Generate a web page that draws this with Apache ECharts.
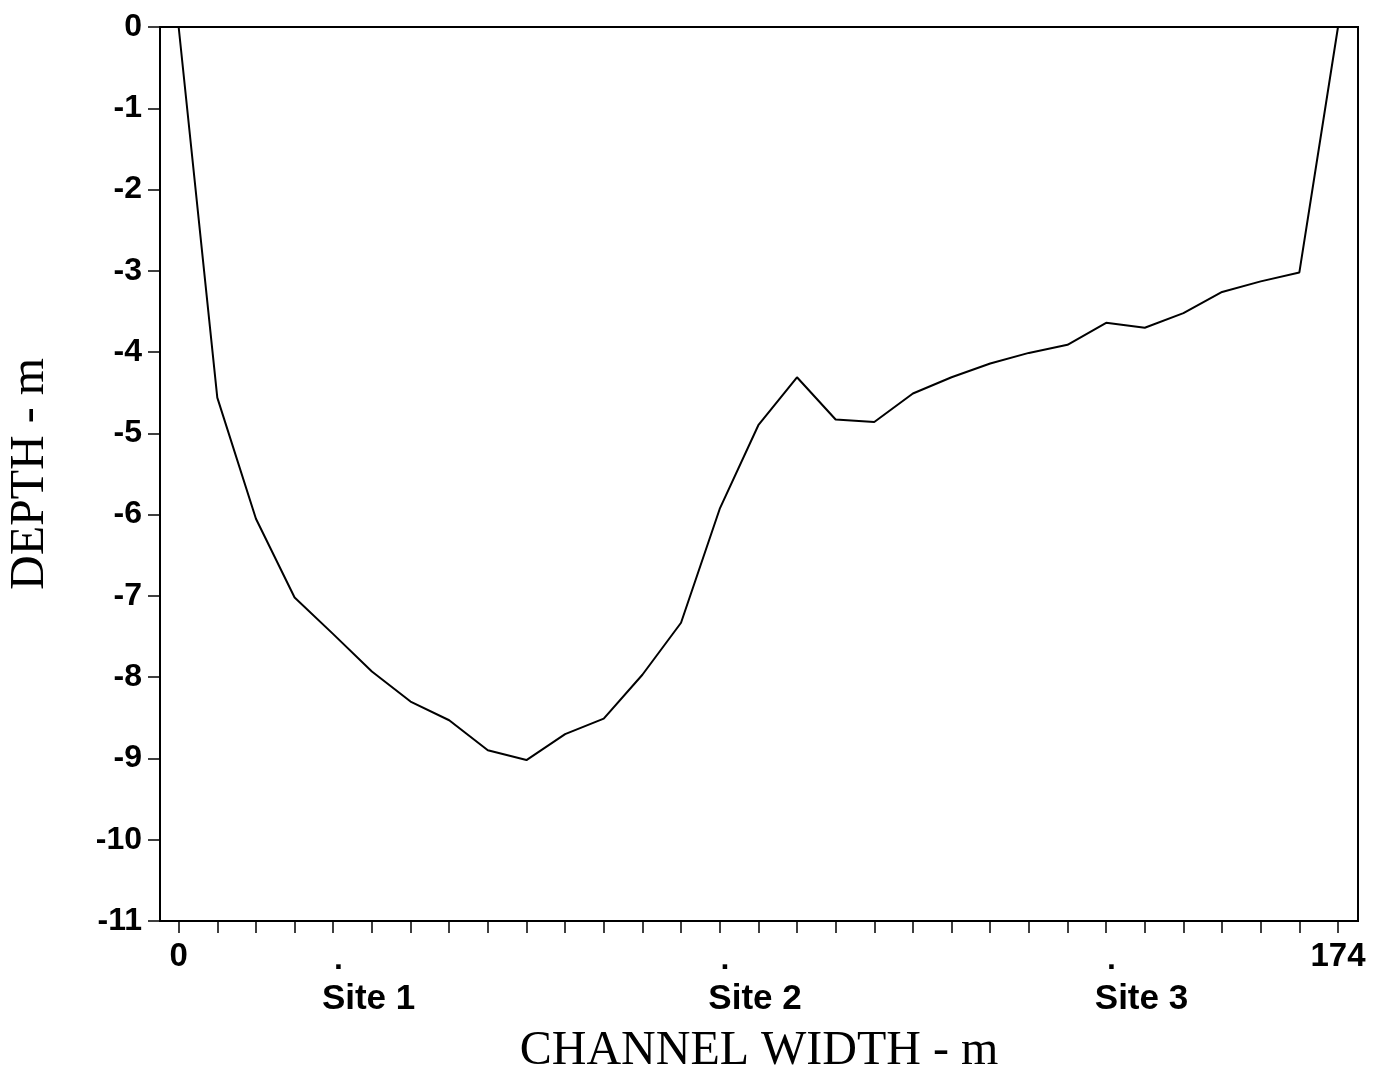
<!DOCTYPE html>
<html>
<head>
<meta charset="utf-8">
<script src="https://cdn.jsdelivr.net/npm/echarts@6/dist/echarts.min.js"></script>
<style>
    html, body { margin: 0; padding: 0; background: #fff; }
    #container { width: 1373px; height: 1075px; }
</style>
</head>
<body>
<div id="container"></div>
<script>
    // stations across the channel (m)
    var stations = [0, 5.8, 11.6, 17.4, 23.2, 29, 34.8, 40.6, 46.4, 52.2, 58, 63.8, 69.6, 75.4, 81.2, 87,
                    92.8, 98.6, 104.4, 110.2, 116, 121.8, 127.6, 133.4, 139.2, 145, 150.8, 156.6, 162.4, 168.2, 174];
    // depth at each station (m)
    var depth = [0, -4.56, -6.05, -7.02, -7.47, -7.93, -8.30, -8.53, -8.90, -9.02, -8.70, -8.51, -7.97, -7.33, -5.93, -4.90,
                 -4.31, -4.83, -4.86, -4.51, -4.31, -4.14, -4.01, -3.91, -3.64, -3.70, -3.52, -3.26, -3.13, -3.02, 0];
    var xLabels = [0, 174];
    var sitePos = [24, 82, 140];
    var siteNames = ['Site 1', 'Site 2', 'Site 3'];

    var pts = [];
    for (var i = 0; i < stations.length; i++) {
        pts.push([stations[i], depth[i]]);
    }

    var sansBold = {fontFamily: 'Liberation Sans, Arial, sans-serif', fontWeight: 'bold', color: '#000'};
    var serif = {fontFamily: 'Liberation Serif, Times New Roman, serif', fontSize: 48, color: '#000'};

    var myChart = echarts.init(document.getElementById('container'));
    var option = {
        animation: false,
        grid: {
            left: 160, right: 15, top: 27, bottom: 154,
            containLabel: false, outerBoundsMode: 'none',
            show: true, borderColor: '#000', borderWidth: 2
        },
        xAxis: [{
            type: 'value', min: -2.8, max: 177, position: 'bottom',
            splitLine: {show: false},
            axisLine: {onZero: false, lineStyle: {color: '#000', width: 2}},
            axisTick: {customValues: stations, length: 12, lineStyle: {color: '#000', width: 1.5}},
            axisLabel: Object.assign({customValues: xLabels, fontSize: 33, margin: 19}, sansBold),
            name: 'CHANNEL WIDTH - m', nameLocation: 'middle', nameGap: 106,
            nameTextStyle: serif
        }, {
            type: 'value', min: -2.8, max: 177, position: 'bottom',
            splitLine: {show: false}, axisLine: {show: false}, axisTick: {show: false},
            axisLabel: Object.assign({customValues: sitePos, fontSize: 32, margin: 23,
                formatter: function () { return '.'; }}, sansBold)
        }, {
            type: 'value', min: -2.8, max: 177, position: 'bottom',
            splitLine: {show: false}, axisLine: {show: false}, axisTick: {show: false},
            axisLabel: Object.assign({customValues: sitePos, fontSize: 35, margin: 61,
                padding: [0, 0, 0, 60],
                formatter: function (v) { return siteNames[sitePos.indexOf(v)]; }}, sansBold)
        }],
        yAxis: {
            type: 'value', min: -11, max: 0, interval: 1,
            splitLine: {show: false},
            axisLine: {onZero: false, lineStyle: {color: '#000', width: 2}},
            axisTick: {length: 12, lineStyle: {color: '#000', width: 1.5}},
            axisLabel: Object.assign({fontSize: 32, margin: 18}, sansBold),
            name: 'DEPTH - m', nameLocation: 'middle', nameGap: 106,
            nameTextStyle: serif
        },
        series: [{
            type: 'line',
            data: pts,
            showSymbol: false,
            lineStyle: {color: '#000', width: 2}
        }]
    };
    myChart.setOption(option);
</script>
</body>
</html>
